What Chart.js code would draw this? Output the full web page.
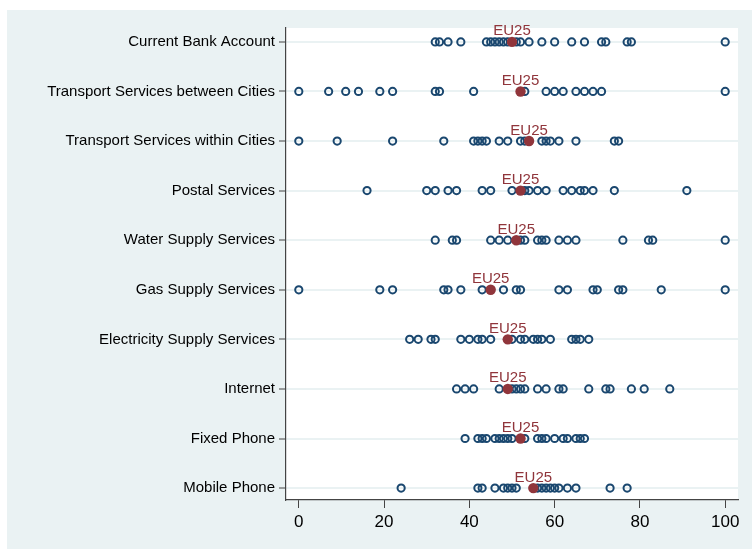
<!DOCTYPE html>
<html><head><meta charset="utf-8">
<script src="https://cdn.jsdelivr.net/npm/chart.js@4"></script>
<style>html,body{margin:0;padding:0;background:#fff;}#c{position:absolute;left:0;top:0;}</style>
</head><body>
<canvas id="c" width="752" height="549" style="width:752px;height:549px"></canvas>
<script>
const categories = ["Current Bank Account","Transport Services between Cities","Transport Services within Cities","Postal Services","Water Supply Services","Gas Supply Services","Electricity Supply Services","Internet","Fixed Phone","Mobile Phone"];
const currentBank = [32,33,35,38,44,45,46,47,48,49,51,52,54,57,60,64,67,71,72,77,78,100];
const transportBetween = [0,7,11,14,19,22,32,33,41,53,58,60,62,65,67,69,71,100];
const transportWithin = [0,9,22,34,41,42,43,44,47,49,52,53,57,58,59,61,65,74,75];
const postal = [16,30,32,35,37,43,45,50,53,54,56,58,62,64,66,67,69,74,91];
const water = [32,36,37,45,47,49,52,53,56,57,58,61,63,65,76,82,83,100];
const gas = [0,19,22,34,35,38,43,48,51,52,61,63,69,70,75,76,85,100];
const electricity = [26,28,31,32,38,40,42,43,45,50,52,53,55,56,57,59,64,65,66,68];
const internet = [37,39,41,47,50,51,52,53,56,58,61,62,68,72,73,78,81,87];
const fixedPhone = [39,42,43,44,46,47,48,49,50,53,56,57,58,60,62,63,65,66,67];
const mobilePhone = [24,42,43,46,48,49,50,51,56,57,58,59,60,61,63,65,73,77];
const eu25 = [50,52,54,52,51,45,49,49,52,55];
const xTicks = [0,20,40,60,80,100];

const series = [currentBank,transportBetween,transportWithin,postal,water,gas,electricity,internet,fixedPhone,mobilePhone];
const countryPts = [];
series.forEach((arr,i)=>arr.forEach(v=>countryPts.push({x:v,y:i})));
const euPts = eu25.map((v,i)=>({x:v,y:i}));

const NAVY = '#1a476f', MAROON = '#90353b', PANEL = '#eaf2f3';

const bgPlugin = {
  id:'bg',
  beforeDraw(chart){
    const ctx = chart.ctx, a = chart.chartArea;
    ctx.save();
    ctx.fillStyle = '#ffffff'; ctx.fillRect(0,0,chart.width,chart.height);
    ctx.fillStyle = PANEL; ctx.fillRect(7,10,chart.width-7,chart.height-10);
    ctx.fillStyle = '#ffffff'; ctx.fillRect(a.left,a.top,a.right-a.left,a.bottom-a.top);
    ctx.restore();
  }
};
const labelPlugin = {
  id:'eulabels',
  afterDatasetsDraw(chart){
    const ctx = chart.ctx, xs = chart.scales.x, ys = chart.scales.y;
    ctx.save();
    ctx.fillStyle = MAROON;
    ctx.font = '15px "Liberation Sans", Arial, sans-serif';
    ctx.textAlign = 'center'; ctx.textBaseline = 'alphabetic';
    eu25.forEach((v,i)=>{
      ctx.fillText('EU25', xs.getPixelForValue(v), ys.getPixelForValue(i) - 6.5);
    });
    ctx.restore();
  }
};

new Chart(document.getElementById('c'), {
  type:'scatter',
  data:{datasets:[
    {label:'EU25', data:euPts, order:0, pointStyle:'circle', pointRadius:5.2, backgroundColor:MAROON, borderColor:MAROON, borderWidth:0, pointHoverRadius:5},
    {label:'Countries', data:countryPts, order:1, pointStyle:'circle', pointRadius:3.6, backgroundColor:'rgba(255,255,255,0)', borderColor:NAVY, borderWidth:2, pointHoverRadius:4}
  ]},
  options:{
    responsive:false, animation:false, devicePixelRatio:1,
    layout:{padding:{left:0,top:28,right:14,bottom:0}},
    plugins:{legend:{display:false}, tooltip:{enabled:false}},
    scales:{
      x:{type:'linear', min:-3, max:103,
        afterBuildTicks(s){ s.ticks = xTicks.map(v=>({value:v})); },
        afterFit(s){ s.height = 49; },
        border:{display:true, color:'#444', width:1.2},
        grid:{drawOnChartArea:false, drawTicks:true, tickLength:8, tickColor:'#444', tickWidth:1},
        ticks:{autoSkip:false, maxRotation:0, padding:4, color:'#000', font:{family:'"Liberation Sans", Arial, sans-serif', size:17}}
      },
      y:{type:'linear', reverse:true, min:-0.28, max:9.24,
        afterBuildTicks(s){ s.ticks = categories.map((c,i)=>({value:i})); },
        afterFit(s){ s.width = 286; },
        border:{display:true, color:'#444', width:1.2},
        grid:{drawOnChartArea:true, color:PANEL, lineWidth:2, drawTicks:true, tickLength:7, tickColor:'#444', tickWidth:1},
        ticks:{autoSkip:false, padding:4, color:'#000', font:{family:'"Liberation Sans", Arial, sans-serif', size:15},
          callback:(v)=>categories[v]}
      }
    }
  },
  plugins:[bgPlugin,labelPlugin]
});
</script>
</body></html>
